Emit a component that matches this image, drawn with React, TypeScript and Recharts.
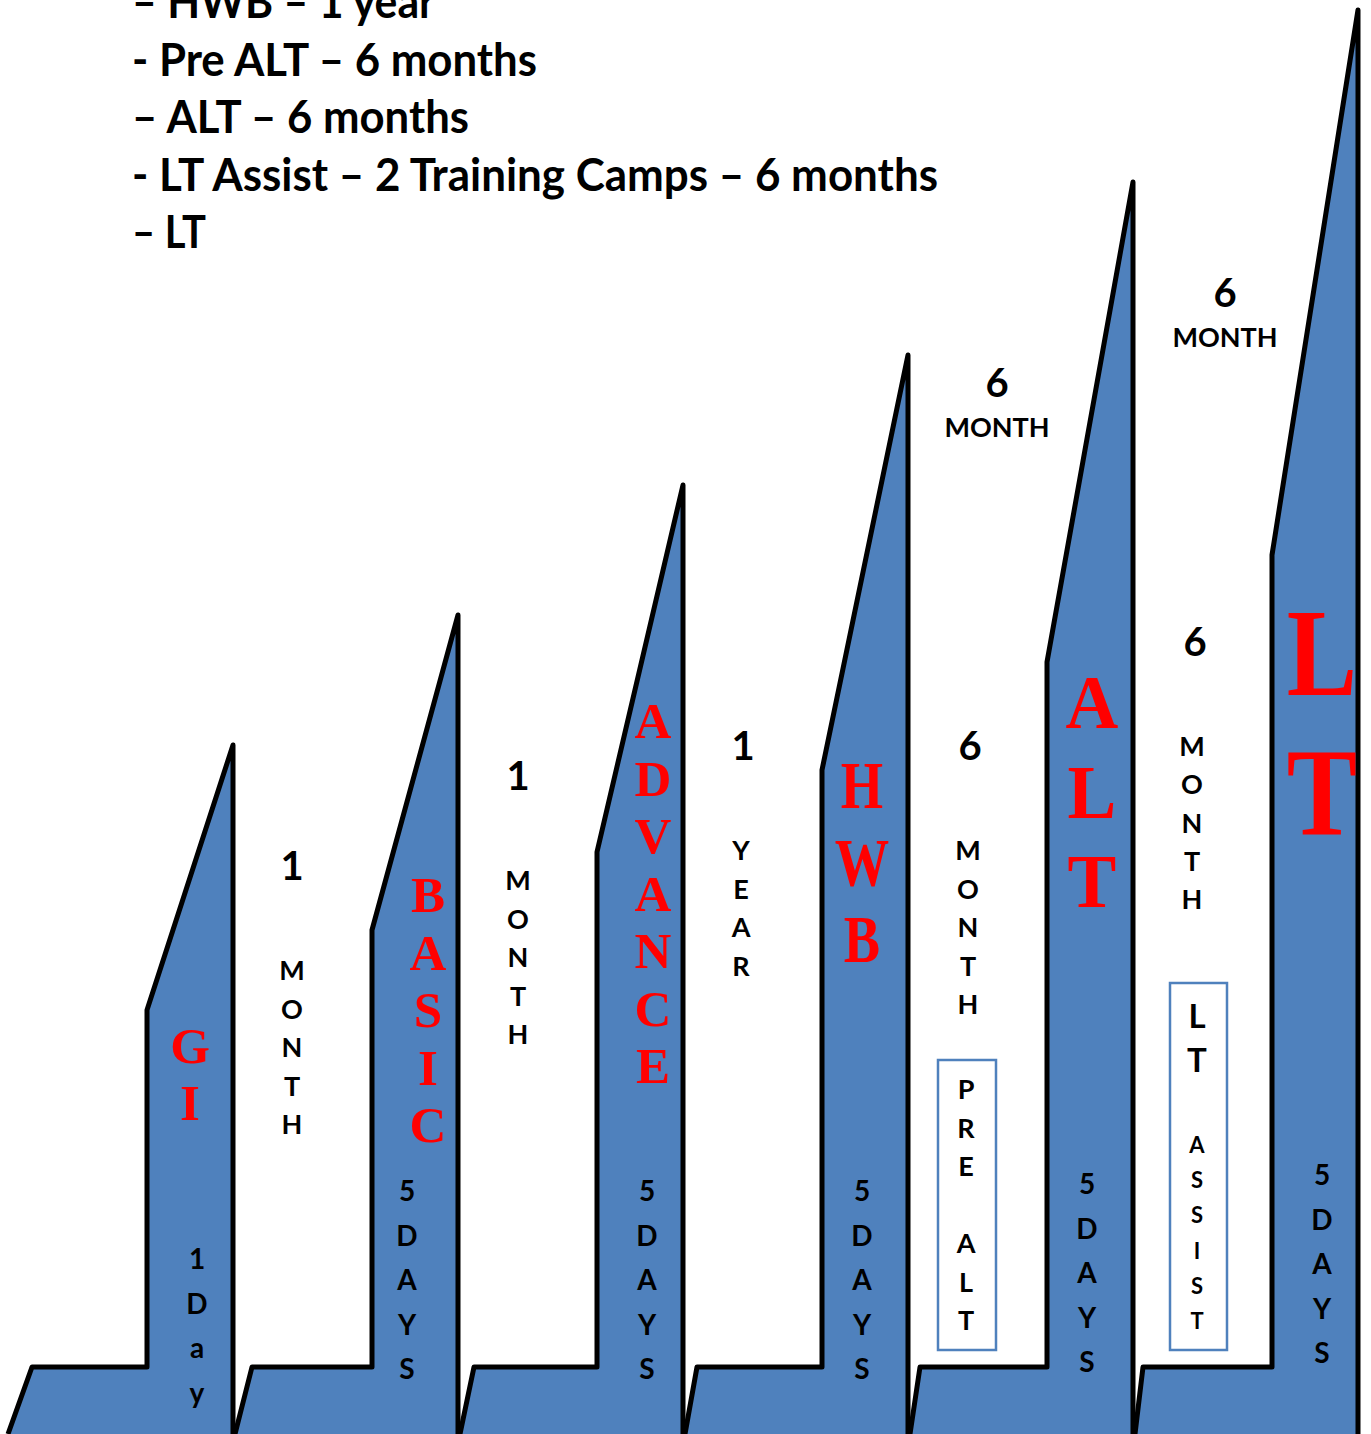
import React from "react";
import { ComposedChart, Area, Scatter, XAxis, YAxis, ReferenceArea } from "recharts";

const W = 1371;
const H = 1434;

// ---- data: step outlines as [x, height above the floor] ----
const giStep = [[8, 0], [32, 67], [147, 67], [147, 424], [233, 689], [233, 0]];
const basicStep = [[235, 0], [252, 67], [372, 67], [372, 504], [458, 819], [458, 0]];
const advanceStep = [[460, 0], [474, 67], [597, 67], [597, 582], [683, 949], [683, 0]];
const hwbStep = [[685, 0], [697, 67], [822, 67], [822, 664], [908, 1079], [908, 0]];
const altStep = [[910, 0], [920, 67], [1047, 67], [1047, 772], [1133, 1252], [1133, 0]];
const ltStep = [[1135, 0], [1143, 67], [1272, 67], [1272, 879], [1358, 1424], [1358, 0]];
const steps = [giStep, basicStep, advanceStep, hwbStep, altStep, ltStep];

// ---- data: texts ----
const stepNames = ["GI", "BASIC", "ADVANCE", "HWB", "ALT", "LT"];
const stepDays = ["1Day", "5DAYS", "5DAYS", "5DAYS", "5DAYS", "5DAYS"];
const gapCounts = ["1", "1", "1", "6", "6"];
const gapUnits = ["MONTH", "MONTH", "YEAR", "MONTH", "MONTH"];
const upperCounts = ["6", "6"];
const upperUnits = ["MONTH", "MONTH"];
const boxedPre = "PRE ALT";
const boxedLt = "LT";
const boxedAssist = "ASSIST";
const notes = [
  "– HWB – 1 year",
  "- Pre ALT – 6 months",
  "– ALT – 6 months",
  "- LT Assist – 2 Training Camps – 6 months",
  "– LT",
];

// ---- layout (pixels from the top of the page) ----
const nameLayout = [
  { x: 190, y0: 1063, step: 57, size: 51, sx: 1 },
  { x: 428, y0: 912, step: 57.5, size: 51, sx: 1 },
  { x: 653, y0: 738, step: 57.5, size: 51, sx: 1 },
  { x: 862, y0: 808, step: 77, size: 68, sx: 0.8 },
  { x: 1092, y0: 728, step: 89.5, size: 77, sx: 0.95 },
  { x: 1322, y0: 695, step: 140, size: 124, sx: 0.85 },
];
const daysLayout = [
  { x: 197, y0: 1269, step: 44.7 },
  { x: 407, y0: 1201, step: 44.5 },
  { x: 647, y0: 1201, step: 44.5 },
  { x: 862, y0: 1201, step: 44.5 },
  { x: 1087, y0: 1194, step: 44.5 },
  { x: 1322, y0: 1185, step: 44.5 },
];
const gapCountLayout = [[292, 880], [518, 790], [743, 760], [970, 760], [1195, 656]];
const gapUnitLayout = [
  { x: 292, y0: 980, step: 38.5 },
  { x: 518, y0: 890, step: 38.5 },
  { x: 741, y0: 860, step: 38.5 },
  { x: 968, y0: 860, step: 38.5 },
  { x: 1192, y0: 756, step: 38.3 },
];
const upperLayout = [[997, 397, 437], [1225, 307, 347]];
const noteLayout = { x: 132, y0: 18, step: 57.5, widths: [303, 405, 337, 806, 74] };

const fromTop = (py: number) => H - py;

const table: any[] = [];
steps.forEach((pts, i) => pts.forEach(([x, h]) => table.push({ x, ["s" + i]: h })));

function stack(text: string, x: number, y0: number, step: number, extra: any = {}) {
  return text
    .split("")
    .map((t, i) => ({ x, y: fromTop(y0 + i * step), t, ...extra }))
    .filter((d) => d.t !== " ");
}

const redNames = stepNames.flatMap((n, i) => {
  const L = nameLayout[i];
  return stack(n, L.x, L.y0, L.step, { size: L.size, sx: L.sx });
});
const dayLetters = stepDays.flatMap((d, i) => stack(d, daysLayout[i].x, daysLayout[i].y0, daysLayout[i].step));
const countDigits = gapCounts
  .map((c, i) => ({ x: gapCountLayout[i][0], y: fromTop(gapCountLayout[i][1]), t: c }))
  .concat(upperCounts.map((c, i) => ({ x: upperLayout[i][0], y: fromTop(upperLayout[i][1]), t: c })));
const unitLetters = gapUnits
  .flatMap((u, i) => stack(u, gapUnitLayout[i].x, gapUnitLayout[i].y0, gapUnitLayout[i].step))
  .concat(upperUnits.map((u, i) => ({ x: upperLayout[i][0], y: fromTop(upperLayout[i][2]), t: u })))
  .concat(stack(boxedPre, 966, 1099, 38.5));
const ltLetters = stack(boxedLt, 1197, 1028, 44);
const assistLetters = stack(boxedAssist, 1197, 1153, 35.2);
const noteLines = notes.map((t, i) => ({
  x: noteLayout.x,
  y: fromTop(noteLayout.y0 + i * noteLayout.step),
  t,
  len: noteLayout.widths[i],
}));

const SANS = "Lato, 'Open Sans', sans-serif";
const SERIF = "'Liberation Serif', 'DejaVu Serif', serif";

const makeText = (opts: { size?: number; family: string; fill: string; anchor?: string; weight?: string }) =>
  (props: any) => {
    const { cx, cy, payload } = props;
    const size = payload.size ?? opts.size;
    const sx = payload.sx ?? 1;
    return (
      <text
        transform={`translate(${cx},${cy}) scale(${sx},1)`}
        x={0}
        y={0}
        textAnchor={(opts.anchor as any) ?? "middle"}
        fontFamily={opts.family}
        fontWeight={opts.weight ?? "bold"}
        fontSize={size}
        fill={opts.fill}
        textLength={payload.len}
        lengthAdjust={payload.len ? "spacingAndGlyphs" : undefined}
      >
        {payload.t}
      </text>
    );
  };

const STEP_FILL = "#4F81BD";

export default function App() {
  return (
    <div style={{ width: W, height: H, background: "#fff" }}>
      <style>{"body{margin:0;overflow:hidden;background:#fff}"}</style>
      <ComposedChart width={W} height={H} data={table} margin={{ top: 0, right: 0, bottom: 0, left: 0 }}>
        <XAxis type="number" dataKey="x" domain={[0, W]} hide allowDataOverflow />
        <YAxis type="number" dataKey="y" domain={[0, H]} hide allowDataOverflow width={0} />
        {steps.map((_, i) => (
          <Area
            key={i}
            type="linear"
            dataKey={"s" + i}
            baseValue={0}
            connectNulls
            fill={STEP_FILL}
            fillOpacity={1}
            stroke="#000"
            strokeWidth={5}
            strokeLinejoin="round"
            dot={false}
            activeDot={false}
            isAnimationActive={false}
          />
        ))}
        <ReferenceArea x1={938} x2={996} y1={fromTop(1350)} y2={fromTop(1060)} fill="#fff" fillOpacity={1} stroke={STEP_FILL} strokeWidth={2.5} />
        <ReferenceArea x1={1170} x2={1227} y1={fromTop(1350)} y2={fromTop(983)} fill="#fff" fillOpacity={1} stroke={STEP_FILL} strokeWidth={2.5} />
        <Scatter data={redNames} isAnimationActive={false} shape={makeText({ family: SERIF, fill: "#FF0000" })} />
        <Scatter data={dayLetters} isAnimationActive={false} shape={makeText({ size: 28, family: SANS, fill: "#000" })} />
        <Scatter data={countDigits} isAnimationActive={false} shape={makeText({ size: 40, family: SANS, fill: "#000" })} />
        <Scatter data={unitLetters} isAnimationActive={false} shape={makeText({ size: 27, family: SANS, fill: "#000" })} />
        <Scatter data={ltLetters} isAnimationActive={false} shape={makeText({ size: 33, family: SANS, fill: "#000" })} />
        <Scatter data={assistLetters} isAnimationActive={false} shape={makeText({ size: 22, family: SANS, fill: "#000" })} />
        <Scatter data={noteLines} isAnimationActive={false} shape={makeText({ size: 46, family: SANS, fill: "#000", anchor: "start" })} />
      </ComposedChart>
    </div>
  );
}
